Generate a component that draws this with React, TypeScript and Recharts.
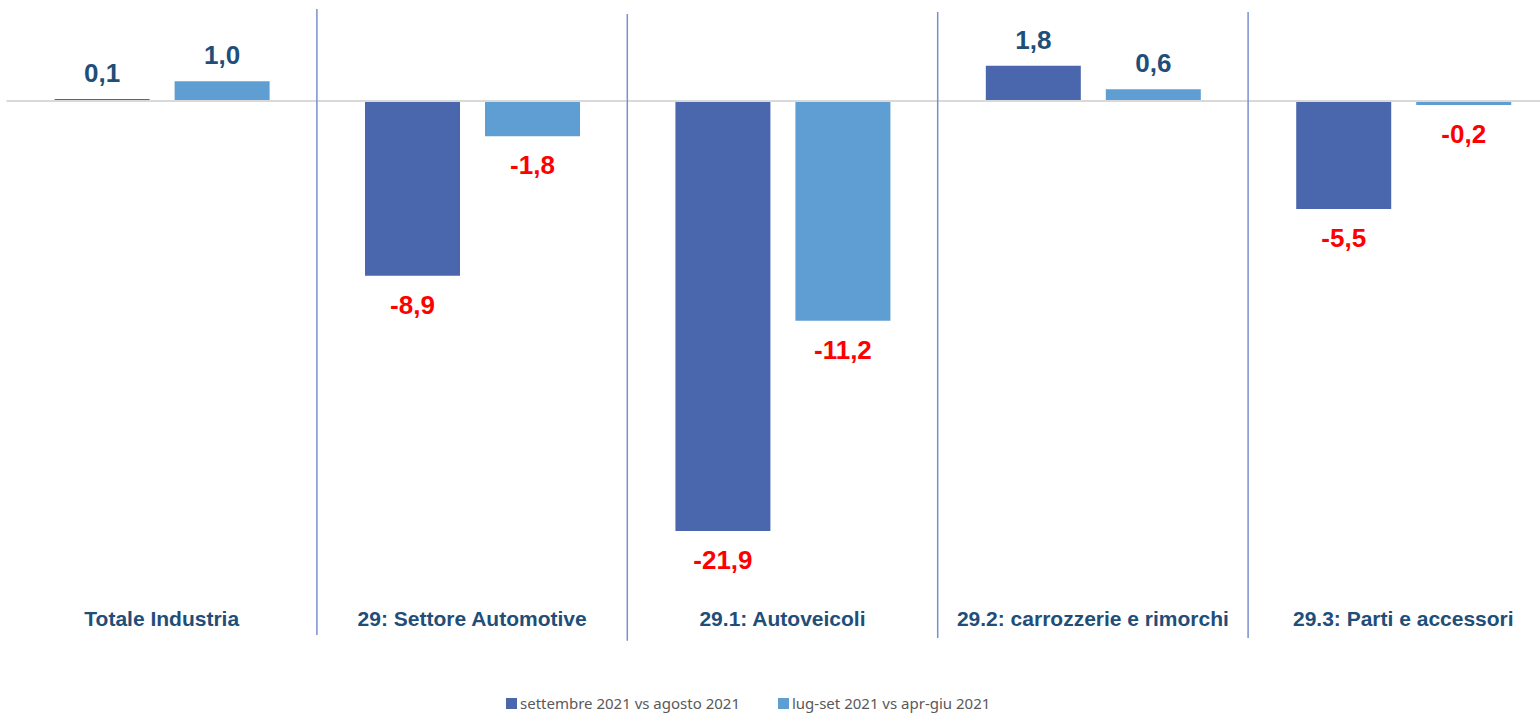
import { BarChart, Bar, XAxis, YAxis, ReferenceLine, LabelList } from "recharts"

// categories (x axis)
const categories = [
  "Totale Industria",
  "29: Settore Automotive",
  "29.1: Autoveicoli",
  "29.2: carrozzerie e rimorchi",
  "29.3: Parti e accessori"
]

// series values (% change)
const settembreVsAgosto = [0.1, -8.9, -21.9, 1.8, -5.5]
const lugSetVsAprGiu = [1.0, -1.8, -11.2, 0.6, -0.2]

const seriesNames = ["settembre 2021 vs agosto 2021", "lug-set 2021 vs apr-giu 2021"]
const seriesColors = ["#4A66AC", "#5F9ED3"]

const data = categories.map((name, i) => ({
  name,
  idx: i,
  mensile: settembreVsAgosto[i],
  trimestrale: lugSetVsAprGiu[i]
}))

// vertical separators between the groups: [position, top value, bottom value]
const separators: [number, number, number][] = [
  [0.5, 4.69, -27.2],
  [1.5, 4.43, -27.5],
  [2.5, 4.53, -27.36],
  [3.5, 4.53, -27.36]
]

const FONT = "'Liberation Sans', Arial, sans-serif"

const fmt = (v: number) => v.toFixed(1).replace(".", ",")

// value label above positive bars, below negative ones
const renderValueLabel = (props: any) => {
  const { x, y, width, height, value } = props
  const top = Math.min(y, y + height)
  const bottom = Math.max(y, y + height)
  const positive = value >= 0
  return (
    <text
      x={x + width / 2}
      y={positive ? top - 26 : bottom + 29}
      textAnchor="middle"
      dominantBaseline="central"
      fontFamily={FONT}
      fontWeight="bold"
      fontSize={26}
      fill={positive ? "#1F4E79" : "#FF0000"}
    >
      {fmt(value)}
    </text>
  )
}

const CategoryTick = ({ x, y, payload }: any) => (
  <text
    x={x}
    y={y + 16.4}
    textAnchor="middle"
    dominantBaseline="central"
    fontFamily={FONT}
    fontWeight="bold"
    fontSize={21}
    fill="#1F4E79"
  >
    {payload.value}
  </text>
)

export default function App() {
  return (
    <div
      style={{
        position: "absolute",
        left: 0,
        top: 0,
        width: 1540,
        height: 713,
        overflow: "hidden",
        background: "#fff"
      }}
    >
      <BarChart
        width={1570}
        height={713}
        data={data}
        margin={{ top: 10.7, right: 11.5, bottom: 81.4, left: 6.5 }}
        barCategoryGap="15.5%"
        barGap={25}
      >
        <XAxis
          dataKey="name"
          axisLine={false}
          tickLine={false}
          tickSize={0}
          tickMargin={0}
          height={30}
          interval={0}
          tick={<CategoryTick />}
        />
        <XAxis
          xAxisId="sep"
          dataKey="idx"
          type="number"
          domain={[-0.5, 4.5]}
          allowDataOverflow
          hide
        />
        <YAxis hide domain={[-25.5, 4.6]} allowDataOverflow />
        <ReferenceLine y={0} stroke="#D9D9D9" strokeWidth={2} />
        <Bar dataKey="mensile" name={seriesNames[0]} fill={seriesColors[0]} isAnimationActive={false}>
          <LabelList dataKey="mensile" content={renderValueLabel} />
        </Bar>
        <Bar dataKey="trimestrale" name={seriesNames[1]} fill={seriesColors[1]} isAnimationActive={false}>
          <LabelList dataKey="trimestrale" content={renderValueLabel} />
        </Bar>
        {separators.map(([pos, top, bottom]) => (
          <ReferenceLine
            key={pos}
            xAxisId="sep"
            ifOverflow="visible"
            segment={[
              { x: pos, y: top },
              { x: pos, y: bottom }
            ]}
            stroke="#7B8FCD"
            strokeWidth={1.5}
          />
        ))}
      </BarChart>
      {/* legend */}
      <div
        style={{
          position: "absolute",
          top: 694,
          left: 506,
          display: "flex",
          gap: 38,
          fontFamily: "'Noto Sans', sans-serif",
          fontSize: 15,
          color: "#595959",
          lineHeight: "18px"
        }}
      >
        {seriesNames.map((n, i) => (
          <div key={n} style={{ display: "flex", alignItems: "center" }}>
            <span
              style={{
                display: "inline-block",
                width: 11,
                height: 11,
                background: seriesColors[i],
                marginRight: 3
              }}
            />
            {n}
          </div>
        ))}
      </div>
    </div>
  )
}
